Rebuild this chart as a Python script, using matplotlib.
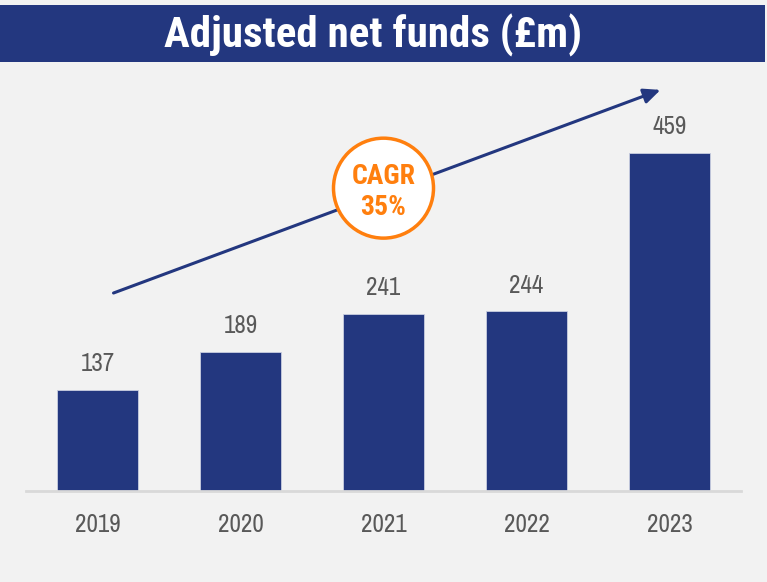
import matplotlib
matplotlib.use("Agg")
import matplotlib.pyplot as plt
from matplotlib.patches import Ellipse, Rectangle

years = ["2019", "2020", "2021", "2022", "2023"]
values = [137, 189, 241, 244, 459]
title = "Adjusted net funds (£m)"
cagr_text = "CAGR\n35%"

NAVY = "#23377F"
ORANGE = "#FF7F0E"
GRAY = "#595959"
BG = "#F2F2F2"

BOLD = ["Roboto Condensed", "DejaVu Sans"]
REG = ["Archivo Narrow", "Roboto Condensed", "DejaVu Sans"]

fig = plt.figure(figsize=(7.67, 5.82), dpi=100, facecolor=BG)

# Title bar
fig.patches.append(Rectangle((0, 1 - 62 / 582), 765 / 767, 57 / 582,
                             transform=fig.transFigure, facecolor=NAVY,
                             edgecolor="none", zorder=0))
fig.text(373 / 767, 1 - 35 / 582, title, ha="center", va="center", color="white",
         fontsize=31, fontweight="bold", family=BOLD)

ax = fig.add_axes([26 / 767, (582 - 491) / 582, 715 / 767, 421 / 582])
ax.set_facecolor(BG)
x = list(range(len(years)))
ax.bar(x, values, width=0.57, color=NAVY, edgecolor="#C9CEE0", linewidth=0.6, zorder=2)
for xi, v in zip(x, values):
    ax.text(xi, v + 20, str(v), ha="center", va="bottom", color=GRAY,
            fontsize=18, family=REG)

ax.set_xlim(-0.5, 4.5)
ax.set_ylim(0, 572)
ax.set_yticks([])
ax.set_xticks(x)
ax.set_xticklabels(years, color=GRAY, fontsize=18, family=REG)
ax.tick_params(axis="x", length=0, pad=16)
for s in ["top", "right", "left"]:
    ax.spines[s].set_visible(False)
ax.spines["bottom"].set_color("#D9D9D9")
ax.spines["bottom"].set_linewidth(2)

# Trend arrow
ax.annotate("", xy=(3.937, 545), xytext=(0.112, 269),
            arrowprops=dict(arrowstyle="-|>,head_length=1.0,head_width=0.45",
                            color=NAVY, lw=2.2, shrinkA=0, shrinkB=0), zorder=3)

# CAGR circle
ypx = 338 / 459
cx, cy = (383 - 97) / 143, (491 - 188) / ypx
r_px = 50
ell = Ellipse((cx, cy), width=2 * r_px / 143, height=2 * r_px / ypx,
              facecolor="white", edgecolor=ORANGE, linewidth=2.5, zorder=4)
ax.add_patch(ell)
ax.text(cx, cy - 4 / ypx, cagr_text, ha="center", va="center", color=ORANGE,
        fontsize=20, fontweight="bold", linespacing=1.2,
        family=BOLD, zorder=5)

fig.savefig("out.png", dpi=100, facecolor=BG)
